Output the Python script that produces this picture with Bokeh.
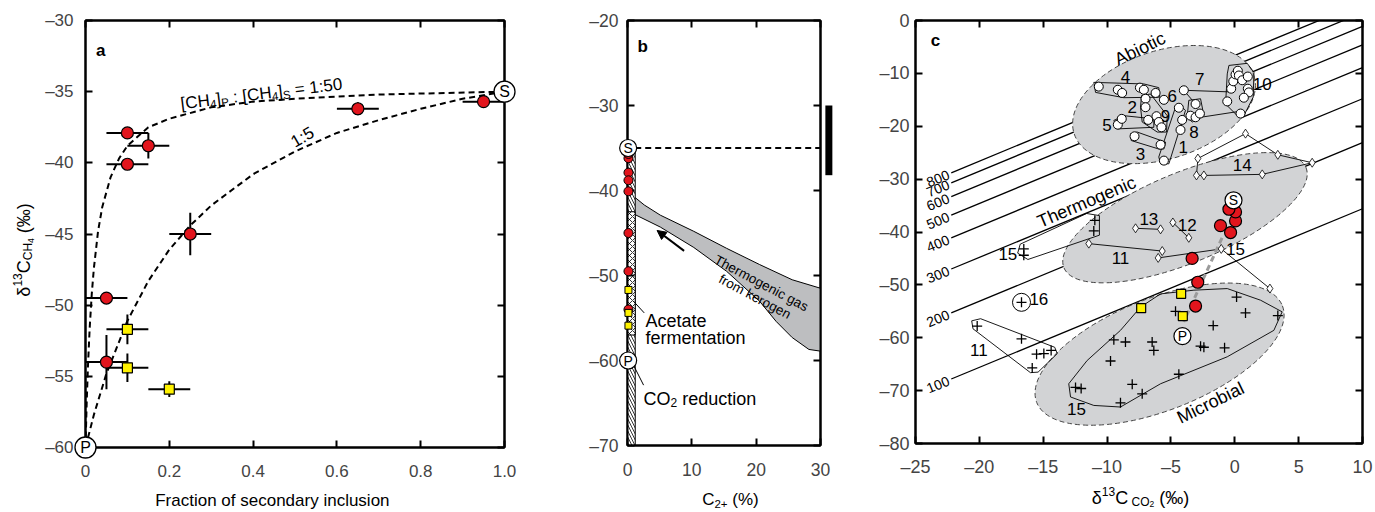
import math
from bokeh.plotting import figure
from bokeh.layouts import row
from bokeh.models import (Range1d, FixedTicker, LinearAxis, CustomJSTickFormatter,
                          Arrow, NormalHead)
from bokeh.embed import file_html
from bokeh.resources import INLINE
from bokeh.core.properties import value

FONT = "Liberation Sans"
RED = "#e2151d"
YELLOW = "#fff200"
ZONE = "#d2d3d5"
BAND = "#bdbec0"

# ---------------- panel a : mixing ----------------
a_red_frac = [0.10, 0.15, 0.10, 0.25, 0.65, 0.95, 0.05, 0.05]
a_red_frac_err = [0.05, 0.05, 0.05, 0.05, 0.05, 0.05, 0.05, 0.05]
a_red_ch4 = [-37.9, -38.8, -40.1, -45.0, -36.2, -35.7, -49.5, -54.0]
a_red_ch4_err = [0.3, 0.9, 0.3, 1.5, 0.45, 0.3, 0.3, 1.9]
a_yel_frac = [0.10, 0.10, 0.20]
a_yel_frac_err = [0.05, 0.05, 0.05]
a_yel_ch4 = [-51.7, -54.4, -55.9]
a_yel_ch4_err = [1.05, 1.0, 0.55]
mix50_frac = [0, 0.003, 0.006, 0.01, 0.015, 0.02, 0.03, 0.04, 0.06, 0.08, 0.1, 0.15, 0.2, 0.3, 0.4, 0.5, 0.7, 1.0]
mix50_ch4 = [-60.0, -56.7, -54.2, -51.6, -49.2, -47.4, -44.8, -43.1, -41.0, -39.7, -38.8, -37.5, -36.9, -36.1, -35.7, -35.5, -35.2, -35.0]
mix5_frac = [0, 0.02, 0.05, 0.1, 0.15, 0.2, 0.25, 0.3, 0.4, 0.5, 0.6, 0.7, 0.8, 0.9, 1.0]
mix5_ch4 = [-60.0, -57.7, -54.8, -51.1, -48.3, -46.1, -44.4, -43.0, -40.8, -39.2, -37.9, -37.0, -36.2, -35.5, -35.0]
end_names = ["P", "S"]
a_end_frac = [0.0, 1.0]
a_end_ch4 = [-60.0, -35.0]
a_xticks = [0, 0.2, 0.4, 0.6, 0.8, 1.0]
a_yticks = [-60, -55, -50, -45, -40, -35, -30]

# ---------------- panel b : C2+ ----------------
b_c2 = 0.15
b_end_c2 = 0.1
strip_c2 = 1.2
acetate_top, acetate_bottom = -42.5, -57.0
strip_bottom = -70.0
band_upper_c2 = [0, 2.6, 5.1, 10.3, 15.4, 20.5, 25.6, 30]
band_upper_ch4 = [-40.1, -41.7, -42.9, -44.8, -46.8, -48.7, -50.5, -51.5]
band_lower_c2 = [0, 5.1, 10.3, 15.4, 20.5, 23.1, 25.6, 28.2, 30]
band_lower_ch4 = [-42.4, -44.3, -46.7, -49.5, -53.0, -55.4, -57.3, -58.7, -58.9]
b_arrow = (8.8, -47.1, 4.6, -44.7)
bar_c2, bar_top, bar_bottom = 31.3, -30.0, -38.2
b_xticks = [0, 10, 20, 30]
b_yticks = [-70, -60, -50, -40, -30, -20]

# ---------------- panel c : CO2 vs CH4 ----------------
iso_temp = ["800", "700", "600", "500", "400", "300", "200", "100"]
iso_offset = [6.6, 8.5, 11.1, 14.6, 18.9, 24.8, 33.1, 45.6]
iso_x0, iso_x1 = -22.2, 10.0

zone_name = ["Abiotic", "Thermogenic", "Microbial"]
zone_co2 = [-5.54, -3.90, -5.89]
zone_ch4 = [-15.9, -37.3, -63.1]
zone_w = [189, 262, 264]
zone_h = [108, 90, 112]
zone_angle = [18, 22.5, 21.5]
zone_lab_co2 = [-7.43, -11.61, -1.9]
zone_lab_ch4 = [-5.36, -34.3, -72.3]
zone_lab_angle = [26, 23, 26]

abio_co2 = [-10.65, -9.16, -8.82, -7.43, -7.12, -6.2,
            -6.99, -6.99, -6.78, -6.13, -5.95, -5.74, -5.55,
            -9.16, -8.85, -7.85, -5.81, -5.55, -4.38, -4.12, -4.25, -3.99,
            -3.47, -3.07, -3.07, -2.73,
            -0.59, -0.28, -0.12, 0.06, 0.24, 0.32, 0.58, 1.02, 1.02, 1.1, 0.71, 0.45]
abio_ch4 = [-12.5, -13.1, -13.7, -12.7, -13.1, -13.7,
            -14.8, -16.4, -18.8, -18.1, -19.2, -20.2, -15.0,
            -19.7, -18.6, -21.9, -23.5, -26.5, -16.5, -18.8, -20.7, -13.2,
            -18.0, -15.8, -18.3, -17.6,
            -15.3, -12.9, -11.5, -10.2, -9.5, -10.4, -11.3, -10.6, -12.9, -13.6, -14.6, -17.6]
abio_loops_x = [[-11.04, -7.12, -5.95, -5.87, -8.69, -10.9],
                [-7.3, -6.6, -5.29, -5.34, -6.07, -7.25, -7.38],
                [-9.47, -8.69, -6.34, -6.34, -9.21],
                [-8.16, -7.64, -5.42, -5.55, -5.95, -8.11],
                [-5.81, -5.16, -3.86, -4.38, -4.64, -5.95],
                [-3.6, -2.68, -2.42, -3.33, -3.73],
                [-0.46, 0.97, 1.5, 1.44, 0.71, 0.32, -0.72, -0.59]]
abio_loops_y = [[-11.7, -12.0, -12.7, -14.5, -14.6, -13.6],
                [-14.2, -13.9, -18.0, -21.1, -21.1, -19.2, -16.4],
                [-18.9, -18.0, -18.6, -20.2, -20.5],
                [-21.4, -21.1, -23.0, -24.3, -24.3, -22.7],
                [-27.1, -27.1, -17.0, -15.8, -16.4, -25.8],
                [-15.1, -14.8, -18.0, -19.2, -18.3],
                [-8.5, -8.1, -9.8, -14.5, -18.0, -18.3, -15.8, -10.1]]
abio_lines_x = [[-3.99, -0.4], [-3.99, -3.07], [-3.2, 0.3]]
abio_lines_y = [[-13.2, -13.5], [-13.2, -15.8], [-18.5, -17.2]]

thermo_co2 = [-2.89, 0.84, 3.37, 6.06, 2.15, -2.42, -3.0, -7.77, -5.81, -4.85, -3.6,
              -11.43, -5.68, -6.0, -1.06, 2.75]
thermo_ch4 = [-26.1, -21.4, -25.4, -26.9, -29.1, -29.3, -29.3, -39.3, -39.5, -38.2, -41.1,
              -42.2, -43.6, -44.9, -43.2, -50.7]
thermo_lines_x = [[-2.89, 0.84, 3.37, 6.06, 2.15, -2.42, -3.0, -2.89],
                  [-7.77, -5.81], [-4.85, -3.6], [-11.43, -5.68], [-6.0, -1.06, 2.75]]
thermo_lines_y = [[-26.1, -21.4, -25.4, -26.9, -29.1, -29.3, -29.3, -26.1],
                  [-39.3, -39.5], [-38.2, -41.1], [-42.2, -43.6], [-44.9, -43.2, -50.7]]

plus_co2 = [-20.17, -16.7, -15.52, -14.95, -14.38, -15.86, -16.7,
            -9.47, -8.56, -9.73, -6.47, -6.34, -4.64, 0.14, 0.84, 3.37, -1.69, -2.68, -2.42,
            -0.8, -4.38, -8.03, -7.25, -8.95, -12.47, -12.03,
            -10.96, -11.04, -16.52, -16.52]
plus_ch4 = [-57.8, -60.2, -63.1, -63.0, -62.4, -65.7, -53.3,
            -60.4, -60.8, -64.4, -60.8, -62.4, -55.0, -52.3, -55.3, -55.8, -57.7, -61.6, -61.8,
            -61.9, -66.9, -68.8, -70.6, -72.3, -69.4, -69.6,
            -37.8, -39.8, -43.2, -44.4]
plus_loops_x = [[-7.38, -5.81, -3.2, -0.59, 2.02, 3.71, 3.06, -0.59, -5.81, -8.95, -11.04, -12.86, -13.0, -11.56, -8.95],
                [-20.6, -20.5, -16.0, -15.4, -13.9, -14.1, -19.9],
                [-17.0, -16.8, -11.6, -10.6, -10.6, -16.2]]
plus_loops_y = [[-54.2, -51.7, -51.0, -50.7, -52.9, -55.1, -58.6, -63.6, -68.7, -73.1, -72.8, -71.2, -68.7, -64.3, -58.6],
                [-56.8, -58.3, -66.6, -66.5, -63.0, -61.8, -56.4],
                [-44.0, -42.3, -36.5, -36.9, -40.6, -45.2]]
ring16_co2, ring16_ch4 = -16.7, -53.3

c_red_co2 = [0.06, -1.12, -0.33, -3.34, 0.06, -0.46, -2.9, -3.07]
c_yel_co2 = [-4.2, -7.33, -4.07]
c_end_co2 = [-4.1, -0.1]
c_end_ch4 = [-59.7, -34.0]
c_mix_co2 = [-1.0, -4.0]
c_mix_ch4 = [-41.1, -57.0]

c_num_text = ["4", "7", "10", "6", "2", "9", "5", "8", "1", "3", "14", "13", "12", "11", "15", "15", "16", "11", "15"]
c_num_co2 = [-8.56, -2.74, 2.15, -4.9, -8.03, -5.42, -10.0, -3.2, -4.04, -7.38, 0.58, -6.73, -3.72, -8.95, 0.06, -17.77, -15.34, -20.04, -12.4]
c_num_ch4 = [-10.6, -11.0, -12.0, -14.2, -16.4, -18.0, -19.8, -21.0, -23.9, -25.2, -27.4, -37.5, -38.6, -44.9, -43.3, -44.2, -52.6, -62.3, -73.4]
c_xticks = [-25, -20, -15, -10, -5, 0, 5, 10]
c_yticks = [-80, -70, -60, -50, -40, -30, -20, -10, 0]

# ---------------- helpers ----------------
CW = {'[': .278, ']': .278, 'C': .722, 'H': .722, 'P': .667, 'S': .667, ':': .278,
      '=': .584, '(': .333, ')': .333, '\u2030': 1.0, '%': .889, '\u03b4': .556,
      '+': .584, 'O': .778, ' ': .278}


def tw(s, size):
    return sum(CW.get(ch, 0.556) for ch in s) * size


def label(p, x, y, text, size, angle=0.0, align="left", baseline="alphabetic",
          style="normal", xo=0.0, yo=0.0):
    # text glyph drawn on the overlay level so that it is not clipped to the frame
    p.text(x=[x], y=[y], text=[text], angle=angle, x_offset=xo, y_offset=-yo,
           text_font=value(FONT), text_font_size=f"{size}px", text_font_style=style,
           text_color="black", text_align=align, text_baseline=baseline, level="overlay")


def rich(p, x, y, pieces, angle_deg=0.0, align="left"):
    total = sum(tw(t, s) for t, s, _ in pieces)
    d = 0.0 if align == "left" else (-total / 2 if align == "center" else -total)
    a = math.radians(angle_deg)
    ca, sa = math.cos(a), math.sin(a)
    for t, s, v in pieces:
        lead = len(t) - len(t.lstrip())
        trail = len(t) - len(t.rstrip())
        d += lead * 0.278 * s
        core = t.strip()
        label(p, x, y, core, s, angle=a, xo=d * ca - v * sa, yo=d * sa + v * ca)
        d += tw(core, s) + trail * 0.278 * s


def style_axis(ax, ticks, code, size, standoff, show=True):
    ax.ticker = FixedTicker(ticks=ticks)
    ax.formatter = CustomJSTickFormatter(code=code)
    ax.major_tick_in = 7
    ax.major_tick_out = 0
    ax.minor_tick_line_color = None
    ax.major_tick_line_width = 2
    ax.axis_line_width = 2
    ax.major_label_text_font = FONT
    ax.major_label_text_font_size = f"{size}px" if show else "0px"
    ax.major_label_standoff = standoff


NEG = "return tick < 0 ? '\\u2013' + Math.abs(tick) : String(tick);"
FRAC = "return tick == 0 ? '0' : tick.toFixed(1);"
BLANK = "return '';"


def panel(xr, yr, fw, fh, bl, br, bt, bb, xt, yt, xcode, ycode, fs, xso, yso):
    p = figure(x_range=Range1d(*xr), y_range=Range1d(*yr), frame_width=fw, frame_height=fh,
               min_border_left=bl, min_border_right=br, min_border_top=bt, min_border_bottom=bb,
               output_backend="svg", toolbar_location=None,
               outline_line_color="black", outline_line_width=2)
    p.xgrid.visible = False
    p.ygrid.visible = False
    style_axis(p.xaxis[0], xt, xcode, fs, xso)
    style_axis(p.yaxis[0], yt, ycode, fs, yso)
    top = LinearAxis()
    style_axis(top, xt, BLANK, fs, 0, show=False)
    p.add_layout(top, "above")
    right = LinearAxis()
    style_axis(right, yt, BLANK, fs, 0, show=False)
    p.add_layout(right, "right")
    return p


# ================= panel a =================
pa = panel((0, 1.0), (-60, -30), 419, 427, 85, 20, 17, 68, a_xticks, a_yticks, FRAC, NEG, 17, 17, 12)
pa.line(mix50_frac, mix50_ch4, line_color="black", line_width=2, line_dash="6 4")
pa.line(mix5_frac, mix5_ch4, line_color="black", line_width=2, line_dash="6 4")
for fx, fe, cy, ce in ((a_red_frac, a_red_frac_err, a_red_ch4, a_red_ch4_err),
                       (a_yel_frac, a_yel_frac_err, a_yel_ch4, a_yel_ch4_err)):
    pa.segment(x0=[x - e for x, e in zip(fx, fe)], y0=cy, x1=[x + e for x, e in zip(fx, fe)], y1=cy,
               line_color="black", line_width=2)
    pa.segment(x0=fx, y0=[y - e for y, e in zip(cy, ce)], x1=fx, y1=[y + e for y, e in zip(cy, ce)],
               line_color="black", line_width=2)
pa.scatter(a_red_frac, a_red_ch4, marker="circle", size=12, fill_color=RED, line_color="black", line_width=1.2)
pa.scatter(a_yel_frac, a_yel_ch4, marker="square", size=10, fill_color=YELLOW, line_color="black", line_width=1.2)
pa.scatter(a_end_frac, a_end_ch4, marker="circle", size=21, fill_color="white", line_color="black",
           line_width=1.3, level="overlay")
pa.text(a_end_frac, a_end_ch4, text=end_names, text_font=value(FONT), text_font_size="16px",
        text_align="center", text_baseline="middle", level="overlay")
label(pa, 0.025, -32.1, "a", 17, style="bold")
rich(pa, 0.227, -35.85, [("[CH", 17, 0), ("4", 11.5, -4), ("]", 17, 0), ("P", 11.5, -4),
                         (" : [CH", 17, 0), ("4", 11.5, -4), ("]", 17, 0), ("S", 11.5, -4),
                         (" = 1:50", 17, 0)], angle_deg=7)
label(pa, 0.518, -38.2, "1:5", 17, angle=math.radians(30), align="center", baseline="middle")
label(pa, 0.446, -63.7, "Fraction of secondary inclusion", 17, align="center")
rich(pa, -0.146, -49.4, [("\u03b4", 18, 0), ("13", 12, 7), ("C", 18, 0), ("CH", 12, -4),
                         ("4", 8.5, -6.5), (" (\u2030)", 18, 0)], angle_deg=90)

# ================= panel b =================
pb = panel((0, 30), (-70, -20), 193, 425, 103, 40, 19, 68, b_xticks, b_yticks, NEG, NEG, 17.5, 17, 9)
pb.patch(band_upper_c2 + band_lower_c2[::-1], band_upper_ch4 + band_lower_ch4[::-1],
         fill_color=BAND, line_color="black", line_width=1)
pb.line([strip_c2, 30], [a_end_ch4[1], a_end_ch4[1]], line_color="black", line_width=2, line_dash="6 4")
pb.quad(left=[0], right=[strip_c2], top=[a_end_ch4[1]], bottom=[strip_bottom], fill_color="white",
        hatch_pattern="\\", hatch_color="black", hatch_scale=6, hatch_weight=0.8,
        line_color="black", line_width=1)
pb.quad(left=[0], right=[strip_c2], top=[acetate_top], bottom=[acetate_bottom], fill_color="white",
        hatch_pattern="x", hatch_color="black", hatch_scale=6, hatch_weight=0.8,
        line_color="black", line_width=1)
pb.segment(x0=[0.9, 0.9], y0=[-53.0, -60.5], x1=[2.6, 2.5], y1=[-54.4, -62.9], line_color="black", line_width=1)
pb.scatter([b_c2] * len(a_red_ch4), a_red_ch4, marker="circle", size=9, fill_color=RED,
           line_color="black", line_width=1, level="overlay")
pb.scatter([b_c2] * len(a_yel_ch4), a_yel_ch4, marker="square", size=7, fill_color=YELLOW,
           line_color="black", line_width=1, level="overlay")
pb.scatter([b_end_c2] * 2, a_end_ch4, marker="circle", size=17, fill_color="white",
           line_color="black", line_width=1.2, level="overlay")
pb.text([b_end_c2] * 2, a_end_ch4, text=end_names, text_font=value(FONT), text_font_size="14px",
        text_align="center", text_baseline="middle", level="overlay")
pb.segment(x0=[bar_c2], y0=[bar_top], x1=[bar_c2], y1=[bar_bottom], line_color="black",
           line_width=7, line_cap="butt", level="overlay")
pb.add_layout(Arrow(end=NormalHead(size=9, fill_color="black", line_color="black"),
                    x_start=b_arrow[0], y_start=b_arrow[1], x_end=b_arrow[2], y_end=b_arrow[3],
                    line_width=2, line_color="black"))
label(pb, 1.55, -23.1, "b", 17, style="bold")
label(pb, 20.8, -50.9, "Thermogenic gas", 13.5, angle=math.radians(-28), align="center", baseline="middle")
label(pb, 19.8, -52.5, "from kerogen", 13.5, angle=math.radians(-28), align="center", baseline="middle")
label(pb, 2.8, -55.4, "Acetate", 18)
label(pb, 2.8, -57.3, "fermentation", 18)
rich(pb, 2.5, -64.5, [("CO", 18, 0), ("2", 12, -4), (" reduction", 18, 0)])
rich(pb, 16.0, -76.4, [("C", 17, 0), ("2+", 11.5, -4), (" (%)", 17, 0)], align="center")

# ================= panel c =================
pc = panel((-25, 10), (-80, 0), 447, 423, 55, 13, 20, 69, c_xticks, c_yticks, NEG, NEG, 18, 13, 6)
pc.multi_line(xs=[[iso_x0, iso_x1] for _ in iso_offset],
              ys=[[iso_x0 - o, iso_x1 - o] for o in iso_offset], line_color="black", line_width=1.3)
slope_angle = math.atan((423 / 80) / (447 / 35))
pc.text([iso_x0 - 0.2] * len(iso_offset), [iso_x0 - 0.2 - o for o in iso_offset], text=iso_temp,
        angle=slope_angle, text_font=value(FONT), text_font_size="14px", text_align="right",
        text_baseline="middle")
pc.ellipse(x=zone_co2, y=zone_ch4, width=zone_w, height=zone_h,
           angle=[math.radians(a) for a in zone_angle], width_units="screen", height_units="screen",
           fill_color=ZONE, line_color="#444444", line_width=1, line_dash="5 3")
pc.patches(abio_loops_x + plus_loops_x, abio_loops_y + plus_loops_y, fill_color=None,
           line_color="black", line_width=0.9)
pc.multi_line(abio_lines_x + thermo_lines_x, abio_lines_y + thermo_lines_y, line_color="black", line_width=0.9)
pc.line(c_mix_co2, c_mix_ch4, line_color="#9b9b9b", line_width=3, line_dash="6 4")
pc.scatter(abio_co2, abio_ch4, marker="circle", size=9, fill_color="white", line_color="black", line_width=1)
pc.scatter(thermo_co2, thermo_ch4, marker="diamond", size=9, fill_color="white", line_color="black", line_width=0.8)
pc.scatter(plus_co2, plus_ch4, marker="cross", size=10, line_color="black", line_width=1.3)
pc.scatter([ring16_co2], [ring16_ch4], marker="circle", size=18, fill_color=None, line_color="black", line_width=1)
pc.scatter(c_red_co2, a_red_ch4, marker="circle", size=12, fill_color=RED, line_color="black", line_width=1.2)
pc.scatter(c_yel_co2, a_yel_ch4, marker="square", size=9, fill_color=YELLOW, line_color="black", line_width=1.2)
pc.scatter(c_end_co2, c_end_ch4, marker="circle", size=17, fill_color="white", line_color="black", line_width=1.2)
pc.text(c_end_co2, c_end_ch4, text=end_names, text_font=value(FONT), text_font_size="14px",
        text_align="center", text_baseline="middle")
pc.text(c_num_co2, c_num_ch4, text=c_num_text, text_font=value(FONT), text_font_size="17px",
        text_align="center", text_baseline="middle")
pc.text(zone_lab_co2, zone_lab_ch4, text=zone_name, angle=[math.radians(a) for a in zone_lab_angle],
        text_font=value(FONT), text_font_size="18px", text_align="center", text_baseline="middle")
label(pc, -23.8, -3.8, "c", 17, style="bold")
rich(pc, -7.38, -90.4, [("\u03b4", 18, 0), ("13", 12, 6.5), ("C", 18, 0), (" CO", 12, -4),
                        ("2", 8.5, -6), (" (\u2030)", 18, 0)], align="center")

layout = row(pa, pb, pc)
open("out.html", "w").write(file_html(layout, INLINE, title="Methane isotopes"))
